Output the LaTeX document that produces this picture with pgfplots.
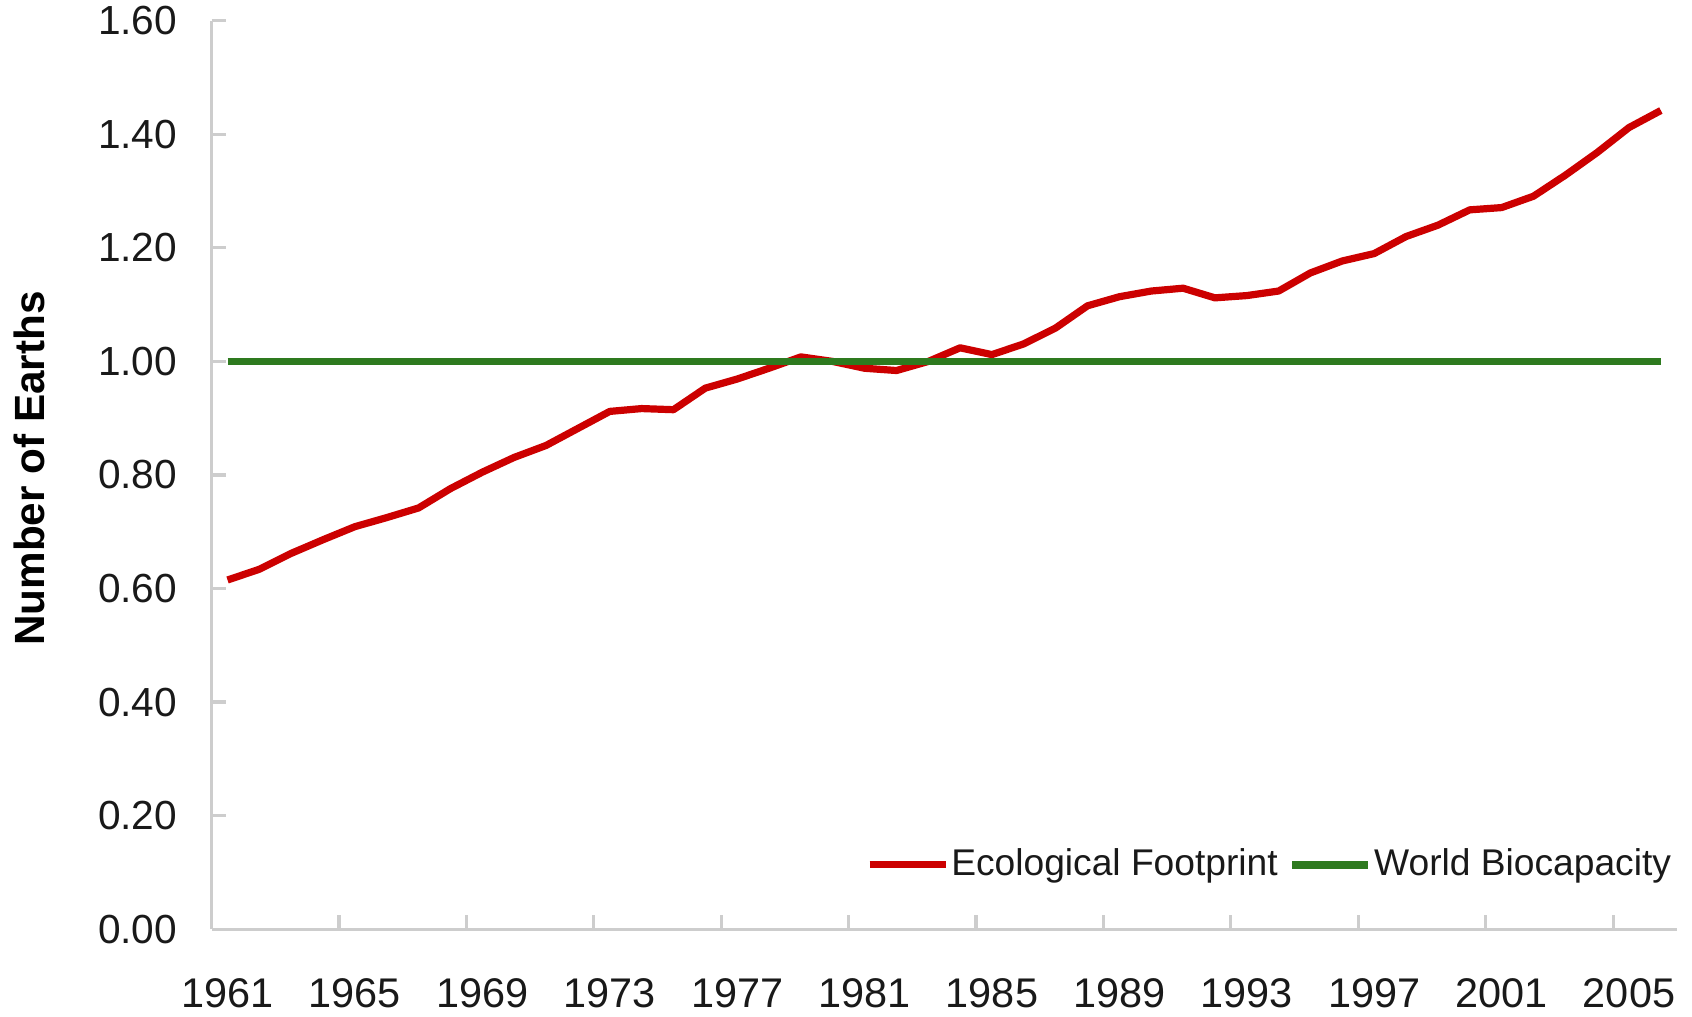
\documentclass[border=0pt]{standalone}
\usepackage{fontspec}
\setmainfont{Liberation Sans}
\usepackage{pgfplots}
\pgfplotsset{compat=1.18}
\usepackage{pgfplotstable}

\definecolor{efred}{RGB}{204,0,0}
\definecolor{bcgreen}{RGB}{46,122,31}
\definecolor{axgray}{RGB}{205,205,205}

% Ecological footprint, number of Earths
\pgfplotstableread{
year ef
1961 0.615
1962 0.634
1963 0.662
1964 0.686
1965 0.709
1966 0.725
1967 0.742
1968 0.776
1969 0.805
1970 0.831
1971 0.852
1972 0.882
1973 0.912
1974 0.917
1975 0.915
1976 0.953
1977 0.969
1978 0.988
1979 1.008
1980 1.000
1981 0.988
1982 0.984
1983 1.000
1984 1.024
1985 1.012
1986 1.031
1987 1.059
1988 1.098
1989 1.114
1990 1.124
1991 1.129
1992 1.112
1993 1.116
1994 1.124
1995 1.156
1996 1.177
1997 1.190
1998 1.220
1999 1.240
2000 1.267
2001 1.271
2002 1.291
2003 1.328
2004 1.368
2005 1.412
2006 1.442
}\footprint

\begin{document}
\begin{tikzpicture}
\begin{axis}[
  scale only axis,
  width=366.3bp, height=227.1bp,
  xmin=1960.5, xmax=2006.5,
  ymin=0, ymax=1.6,
  axis x line*=bottom, axis y line*=left,
  axis line style={axgray, line width=0.8bp},
  tick align=inside,
  major tick length=3.6bp,
  tick style={axgray, line width=0.8bp},
  xtick={1960.5,1964.5,...,2004.5},
  xticklabels={},
  extra x ticks={1961,1965,...,2005},
  extra x tick labels={1961,1965,1969,1973,1977,1981,1985,1989,1993,1997,2001,2005},
  extra x tick style={major tick length=0pt,
    tick label style={inner sep=0pt, yshift=-12.25bp, font=\fontsize{10.4}{12}\selectfont}},
  ytick={0,0.2,...,1.6},
  yticklabel={\pgfmathprintnumber[fixed,fixed zerofill,precision=2,assume math mode=true]{\tick}},
  yticklabel style={inner sep=0pt, xshift=-8.4bp},
  /pgf/number format/assume math mode=true,
  tick label style={font=\fontsize{10.2}{12}\selectfont, text=black!90},
  every axis y label/.style={at={(axis description cs:-0.1246,0.507)}, anchor=center, rotate=90, inner sep=0pt},
  ylabel={\bfseries Number of Earths},
  label style={font=\fontsize{10.6}{12}\selectfont, text=black},
  legend columns=2,
  legend style={at={(axis description cs:0.998,0.071)}, anchor=east, draw=none, fill=none,
    inner sep=0pt, font=\fontsize{9.33}{11}\selectfont, text=black!90,
    nodes={inner sep=0.5pt},
    /tikz/every even column/.append style={column sep=2.2bp},
    /tikz/every odd column/.append style={column sep=0bp}},
  legend image code/.code={\draw[#1] (0bp,0bp) -- (19bp,0bp);},
]
\addplot[efred, line width=1.8bp, line join=round] table[x=year, y=ef] {\footprint};
\addlegendentry{Ecological Footprint}
\addplot[bcgreen, line width=1.9bp] coordinates {(1961,1.00) (2006,1.00)};
\addlegendentry{World Biocapacity}
\end{axis}
\pgfresetboundingbox
\useasboundingbox ([xshift=-52.9bp, yshift=5.2bp]current axis.north west)
  rectangle ([xshift=3.8bp, yshift=-21.95bp]current axis.south east);
\end{tikzpicture}
\end{document}
